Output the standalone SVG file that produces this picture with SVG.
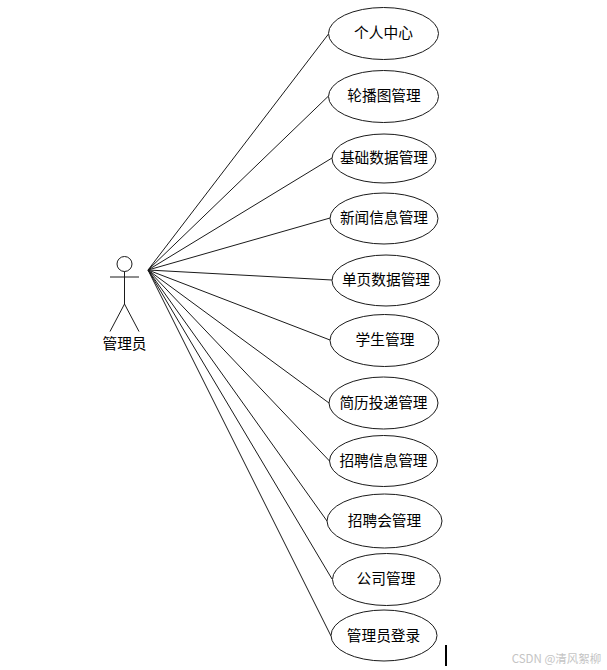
<svg xmlns="http://www.w3.org/2000/svg" width="607" height="670" viewBox="0 0 607 670">
<style>
.b{fill:#fff;stroke:#1a1a1a;stroke-width:1}
.l{stroke:#1a1a1a;stroke-width:1;fill:none}
text{font-family:"Noto Sans CJK SC","Liberation Sans",sans-serif;font-size:14.700px;fill:#000;text-anchor:middle}
</style>
<rect width="607" height="670" fill="#fff"/>
<g id="connectors" class="l">
<line x1="148" y1="270" x2="328.500" y2="34"/>
<line x1="148" y1="270" x2="328.500" y2="96"/>
<line x1="148" y1="270" x2="332" y2="158"/>
<line x1="148" y1="270" x2="330" y2="218"/>
<line x1="148" y1="270" x2="332" y2="280"/>
<line x1="148" y1="270" x2="330" y2="340"/>
<line x1="148" y1="270" x2="329" y2="403"/>
<line x1="148" y1="270" x2="329.500" y2="461"/>
<line x1="148" y1="270" x2="327" y2="521"/>
<line x1="148" y1="270" x2="332" y2="579"/>
<line x1="148" y1="270" x2="331" y2="636"/>
</g>
<g id="actor" class="l">
<circle cx="124.500" cy="264" r="7.500"/>
<line x1="124.500" y1="271.500" x2="124.500" y2="304"/>
<line x1="110" y1="277" x2="139" y2="277"/>
<line x1="124.500" y1="304" x2="110" y2="331.500"/>
<line x1="124.500" y1="304" x2="139" y2="331.500"/>
</g>
<text x="124.500" y="348.500">管理员</text>
<g id="n1"><ellipse class="b" cx="383.500" cy="33.500" rx="55" ry="26"/><text x="383.500" y="38">个人中心</text></g>
<g id="n2"><ellipse class="b" cx="383.500" cy="96.500" rx="55" ry="26"/><text x="384" y="101">轮播图管理</text></g>
<g id="n3"><ellipse class="b" cx="384" cy="158.500" rx="52" ry="24.500"/><text x="384" y="163">基础数据管理</text></g>
<g id="n4"><ellipse class="b" cx="384" cy="218.500" rx="54" ry="25.500"/><text x="384" y="223">新闻信息管理</text></g>
<g id="n5"><ellipse class="b" cx="386" cy="280.500" rx="54" ry="25.500"/><text x="386" y="285">单页数据管理</text></g>
<g id="n6"><ellipse class="b" cx="384.500" cy="340.500" rx="54.500" ry="26"/><text x="385" y="345">学生管理</text></g>
<g id="n7"><ellipse class="b" cx="383.500" cy="403" rx="54.500" ry="26"/><text x="383.500" y="408">简历投递管理</text></g>
<g id="n8"><ellipse class="b" cx="383.500" cy="461" rx="54" ry="25.500"/><text x="383.500" y="466">招聘信息管理</text></g>
<g id="n9"><ellipse class="b" cx="384.500" cy="521" rx="57.500" ry="27"/><text x="384.500" y="526">招聘会管理</text></g>
<g id="n10"><ellipse class="b" cx="386.500" cy="579.500" rx="54" ry="26"/><text x="386" y="584">公司管理</text></g>
<g id="n11"><ellipse class="b" cx="384" cy="635.500" rx="53" ry="25.500"/><text x="383.500" y="641">管理员登录</text></g>
<line x1="446" y1="645" x2="446" y2="666" stroke="#000" stroke-width="2"/>
<text x="556.500" y="663" style="font-size:11.500px;fill:#c4c4c4">CSDN @清风絮柳</text>
</svg>
